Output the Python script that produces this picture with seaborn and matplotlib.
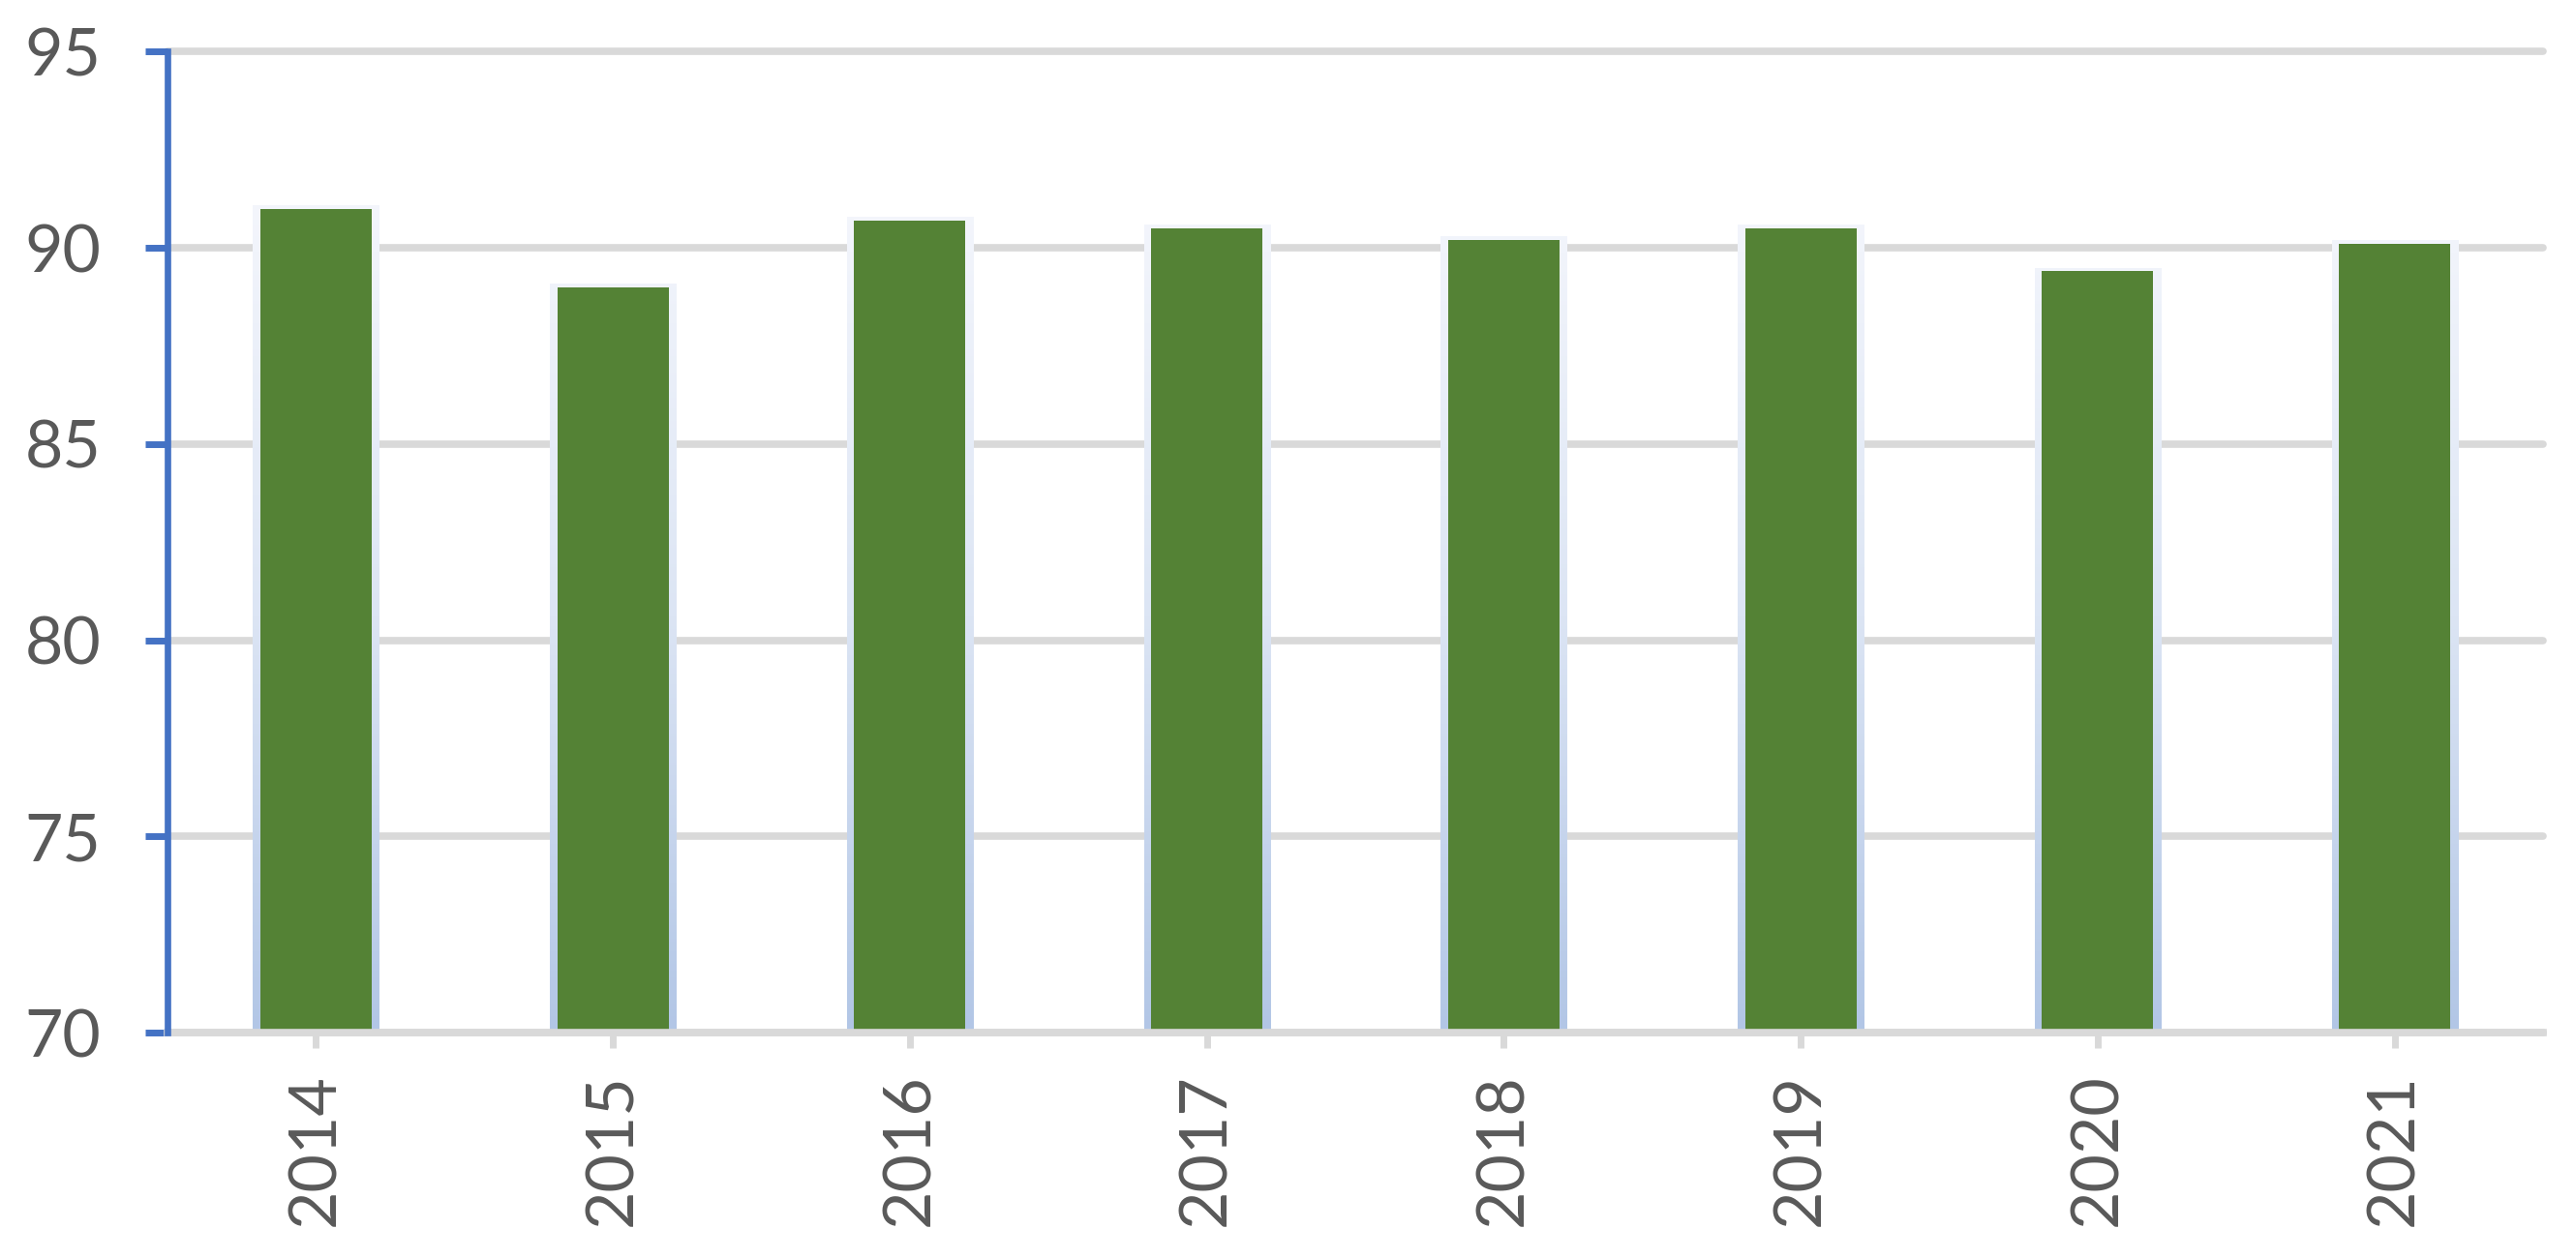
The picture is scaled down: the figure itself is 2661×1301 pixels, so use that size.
import numpy as np
import matplotlib
matplotlib.use("Agg")
import matplotlib.pyplot as plt
import seaborn as sns
import pandas as pd
from matplotlib.colors import LinearSegmentedColormap
from matplotlib.patches import Rectangle

years = ["2014", "2015", "2016", "2017", "2018", "2019", "2020", "2021"]
values = [91.0, 89.0, 90.7, 90.5, 90.2, 90.5, 89.4, 90.1]
y_ticks = [70, 75, 80, 85, 90, 95]

GREEN = "#548235"
BLUE = "#4472C4"
GRID = "#D9D9D9"
TEXT = "#595959"

sns.set_theme(style="white")
plt.rcParams["font.family"] = ["Lato", "DejaVu Sans"]

data = pd.DataFrame({"year": years, "value": values})

fig = plt.figure(figsize=(26.61, 13.01), dpi=100)
ax = fig.add_axes([0.065, 0.1797, 0.9222, 0.7793])

sns.barplot(
    data=data,
    x="year",
    y="value",
    order=years,
    color=GREEN,
    saturation=1,
    width=0.375,
    linewidth=0,
    ax=ax,
    zorder=3,
)

ax.set_ylim(70, 95)
ax.set_xlim(-0.5, len(years) - 0.5)
ax.set_yticks(y_ticks)

# light gradient border behind each bar (Excel style)
cmap = LinearSegmentedColormap.from_list("edge", ["#B2C6E6", "#DCE5F4", "#F4F6FC"])
grad = np.linspace(0, 1, 256).reshape(-1, 1)
dx = 0.0245
dy = 0.09
for p in list(ax.patches):
    rect = Rectangle(
        (p.get_x() - dx, p.get_y()),
        p.get_width() + 2 * dx,
        p.get_height() + dy,
        transform=ax.transData,
        facecolor="none",
        edgecolor="none",
    )
    ax.add_patch(rect)
    im = ax.imshow(
        grad,
        cmap=cmap,
        origin="lower",
        aspect="auto",
        extent=(p.get_x() - dx, p.get_x() + p.get_width() + dx, 70, 91.2),
        zorder=2,
    )
    im.set_clip_path(rect)

ax.set_ylim(70, 95)
ax.set_xlim(-0.5, len(years) - 0.5)

ax.yaxis.grid(True, color=GRID, linewidth=5.5, zorder=0)
ax.set_axisbelow(True)
for line in ax.get_ygridlines():
    line.set_clip_on(False)

for side in ["top", "right"]:
    ax.spines[side].set_visible(False)
ax.spines["left"].set_color(BLUE)
ax.spines["left"].set_linewidth(4.8)
ax.spines["left"].set_zorder(5)
ax.spines["bottom"].set_color(GRID)
ax.spines["bottom"].set_linewidth(5.5)
ax.spines["bottom"].set_zorder(4)

ax.tick_params(axis="y", left=True, length=16.6, width=5, color=BLUE,
               pad=33, labelsize=49, labelcolor=TEXT)
ax.tick_params(axis="x", bottom=True, length=11.5, width=5, color=GRID,
               pad=19, labelsize=49, labelcolor=TEXT, labelrotation=90)

ax.set_xlabel("")
ax.set_ylabel("")

plt.savefig("out.png", dpi=100)
